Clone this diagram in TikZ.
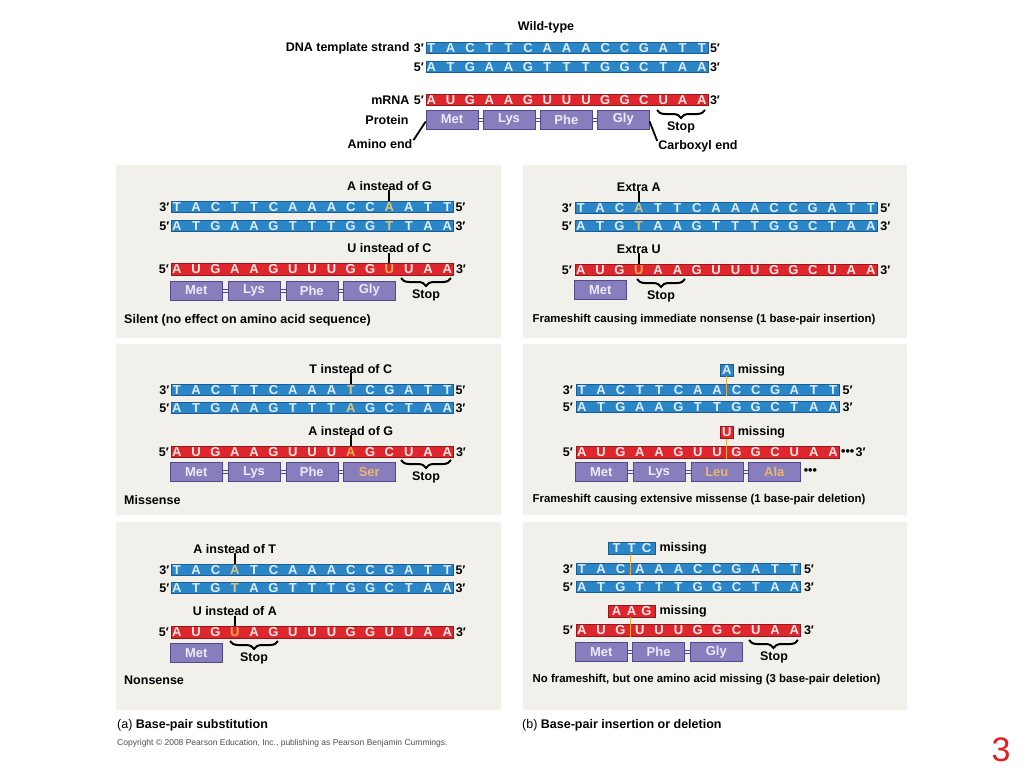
\documentclass[tikz,border=0pt]{standalone}
\usepackage{fontspec}
\setmainfont{Liberation Sans}
\usetikzlibrary{decorations.pathreplacing}
\definecolor{dnafill}{RGB}{42,134,198}
\definecolor{dnaedge}{RGB}{28,92,148}
\definecolor{rnafill}{RGB}{222,38,44}
\definecolor{rnaedge}{RGB}{150,22,28}
\definecolor{protfill}{RGB}{136,126,190}
\definecolor{protedge}{RGB}{82,72,138}
\definecolor{prottext}{RGB}{236,234,250}
\definecolor{dnatext}{RGB}{222,238,252}
\definecolor{rnatext}{RGB}{255,232,232}
\definecolor{hldna}{RGB}{224,198,122}
\definecolor{hlrna}{RGB}{250,172,72}
\definecolor{hlprot}{RGB}{234,182,112}
\definecolor{panelbg}{RGB}{242,240,234}
\definecolor{misscol}{RGB}{242,172,60}
\definecolor{slidered}{RGB}{226,30,30}
\definecolor{copygray}{RGB}{80,80,80}
\newcommand\hd[1]{\textcolor{hldna}{#1}}
\newcommand\hr[1]{\textcolor{hlrna}{#1}}
\newcommand\hp[1]{\textcolor{hlprot}{#1}}
\tikzset{
  dnabar/.style={draw=dnaedge, fill=dnafill, line width=0.6pt, minimum height=11.5pt, inner sep=0pt},
  rnabar/.style={draw=rnaedge, fill=rnafill, line width=0.6pt, minimum height=11.5pt, inner sep=0pt},
  dnabartext/.style={text=dnatext},
  rnabartext/.style={text=rnatext},
  base/.style={font=\fontsize{13}{14}\selectfont\bfseries, inner sep=0pt},
  protbox/.style={draw=protedge, fill=protfill, line width=0.6pt, minimum width=52pt, minimum height=19pt, inner sep=0pt, font=\fontsize{13}{14}\selectfont\bfseries, text=prottext},
  aalinkstyle/.style={draw=protedge, line width=0.6pt},
  lbl/.style={font=\fontsize{12.5}{14}\selectfont\bfseries, inner sep=0pt},
  caplbl/.style={font=\fontsize{11.4}{13}\selectfont\bfseries, inner sep=0pt},
  endlbl/.style={font=\fontsize{12.5}{14}\selectfont\bfseries, inner sep=0pt},
  tickline/.style={line width=2pt, draw=black},
  pointer/.style={line width=1.8pt, draw=black},
  stopbrace/.style={decorate, decoration={brace, mirror, amplitude=8pt}, line width=2pt, draw=black},
  missl/.style={draw=misscol, line width=0.9pt},
  panel/.style={fill=panelbg}
}
% strand: name, x0, yc, count, bar style, letters
\newcommand\strand[6]{%
  \pgfmathsetmacro\strandW{11.6+19.33*(#4-1)}%
  \node[#5, minimum width=\strandW pt, anchor=west] (#1) at (#2,#3) {};
  \foreach \l [count=\i] in {#6} {\node[base, #5text] (#1-\i) at ({#2+5.8+19.33*(\i-1)},#3) {\l};}
}
\newcommand\strandends[4]{%
  \node[endlbl, anchor=east] (#1-L) at ([xshift=-#4]#1.west) {#2};
  \node[endlbl, anchor=west] (#1-R) at ([xshift=#4]#1.east) {#3};
}
\newcommand\aabox[4]{\node[protbox, anchor=west] (#1) at (#2,#3) {#4};}
\newcommand\aalink[2]{%
  \draw[aalinkstyle] ([yshift=1.6pt]#1.east) -- ([yshift=1.6pt]#2.west);
  \draw[aalinkstyle] ([yshift=-1.6pt]#1.east) -- ([yshift=-1.6pt]#2.west);
}
\begin{document}
\begin{tikzpicture}[x=1pt,y=-1pt]
\useasboundingbox (0,0) rectangle (1024,768);
\fill[white] (0,0) rectangle (1024,768);
% panels
\path[panel] (116,165) rectangle (501,338);
\path[panel] (116,344) rectangle (501,515);
\path[panel] (116,522) rectangle (501,710);
\path[panel] (523,165) rectangle (907,338);
\path[panel] (523,344) rectangle (907,515);
\path[panel] (523,522) rectangle (907,710);

% ---------------- Wild type ----------------
\node[lbl] (wt) at (546,27) {Wild-type};
\strand{w-t}{425.5}{48}{15}{dnabar}{T,A,C,T,T,C,A,A,A,C,C,G,A,T,T}
\strand{w-b}{425.5}{67}{15}{dnabar}{A,T,G,A,A,G,T,T,T,G,G,C,T,A,A}
\strand{w-m}{425.5}{100}{15}{rnabar}{A,U,G,A,A,G,U,U,U,G,G,C,U,A,A}
\strandends{w-t}{3′}{5′}{1.5pt}
\strandends{w-b}{5′}{3′}{1.5pt}
\strandends{w-m}{5′}{3′}{1.5pt}
\node[lbl, anchor=east] (w-dna) at ([xshift=-4pt]w-t-L.west) {DNA template strand};
\node[lbl, anchor=east] (w-mrna) at ([xshift=-4pt]w-m-L.west) {mRNA};
\node[lbl] (w-prot) at (387,120) {Protein};
\aabox{w-p1}{425.7}{119.5}{Met}
\aabox{w-p2}{482.7}{119.5}{Lys}
\aabox{w-p3}{540}{119.5}{Phe}
\aabox{w-p4}{597}{119.5}{Gly}
\aalink{w-p1}{w-p2}\aalink{w-p2}{w-p3}\aalink{w-p3}{w-p4}
\coordinate (w-brL) at (657,110); \coordinate (w-brR) at (705,110);
\draw[stopbrace] (w-brL) -- (w-brR);
\node[lbl] (w-stop) at (681,127) {Stop};
\node[lbl] (w-amino) at (380,144) {Amino end};
\node[lbl] (w-carb) at (698,146) {Carboxyl end};
\draw[pointer] ([yshift=-2pt]w-p1.west) -- ([xshift=1pt,yshift=-1pt]w-amino.north east);
\draw[pointer] ([yshift=-2pt]w-p4.east) -- ([xshift=-1pt,yshift=-1pt]w-carb.north west);

% ---------------- (a) Silent ----------------
\strand{a1-t}{171}{207}{15}{dnabar}{T,A,C,T,T,C,A,A,A,C,C,\hd{A},A,T,T}
\strand{a1-b}{171}{226}{15}{dnabar}{A,T,G,A,A,G,T,T,T,G,G,\hd{T},T,A,A}
\strand{a1-m}{171}{269.5}{15}{rnabar}{A,U,G,A,A,G,U,U,U,G,G,\hr{U},U,A,A}
\strandends{a1-t}{3′}{5′}{1.5pt}
\strandends{a1-b}{5′}{3′}{1.5pt}
\strandends{a1-m}{5′}{3′}{2pt}
\node[lbl, anchor=south] (a1-l1) at ([yshift=10.5pt]a1-t-12.center |- a1-t.north) {A instead of G};
\draw[tickline] (a1-l1.south) -- (a1-l1.south |- a1-t.north);
\node[lbl, anchor=south] (a1-l2) at ([yshift=10.5pt]a1-m-12.center |- a1-m.north) {U instead of C};
\draw[tickline] (a1-l2.south) -- (a1-l2.south |- a1-m.north);
\aabox{a1-p1}{170}{290.5}{Met}
\aabox{a1-p2}{227.7}{290.5}{Lys}
\aabox{a1-p3}{285.5}{290.5}{Phe}
\aabox{a1-p4}{343}{290.5}{Gly}
\aalink{a1-p1}{a1-p2}\aalink{a1-p2}{a1-p3}\aalink{a1-p3}{a1-p4}
\coordinate (a1-brL) at (401,278); \coordinate (a1-brR) at (451,278);
\draw[stopbrace] (a1-brL) -- (a1-brR);
\node[lbl] (a1-stop) at (426,295) {Stop};
\node[lbl, anchor=west] (a1-cap) at (124,320) {Silent (no effect on amino acid sequence)};

% ---------------- (a) Missense ----------------
\strand{a2-t}{171}{390}{15}{dnabar}{T,A,C,T,T,C,A,A,A,\hd{T},C,G,A,T,T}
\strand{a2-b}{171}{408}{15}{dnabar}{A,T,G,A,A,G,T,T,T,\hd{A},G,C,T,A,A}
\strand{a2-m}{171}{452}{15}{rnabar}{A,U,G,A,A,G,U,U,U,\hr{A},G,C,U,A,A}
\strandends{a2-t}{3′}{5′}{1.5pt}
\strandends{a2-b}{5′}{3′}{1.5pt}
\strandends{a2-m}{5′}{3′}{2pt}
\node[lbl, anchor=south] (a2-l1) at ([yshift=10.5pt]a2-t-10.center |- a2-t.north) {T instead of C};
\draw[tickline] (a2-l1.south) -- (a2-l1.south |- a2-t.north);
\node[lbl, anchor=south] (a2-l2) at ([yshift=10.5pt]a2-m-10.center |- a2-m.north) {A instead of G};
\draw[tickline] (a2-l2.south) -- (a2-l2.south |- a2-m.north);
\aabox{a2-p1}{170}{472}{Met}
\aabox{a2-p2}{227.7}{472}{Lys}
\aabox{a2-p3}{285.5}{472}{Phe}
\aabox{a2-p4}{343}{472}{\hp{Ser}}
\aalink{a2-p1}{a2-p2}\aalink{a2-p2}{a2-p3}\aalink{a2-p3}{a2-p4}
\coordinate (a2-brL) at (401,460); \coordinate (a2-brR) at (451,460);
\draw[stopbrace] (a2-brL) -- (a2-brR);
\node[lbl] (a2-stop) at (426,477) {Stop};
\node[lbl, anchor=west] (a2-cap) at (124,500) {Missense};

% ---------------- (a) Nonsense ----------------
\strand{a3-t}{171}{570}{15}{dnabar}{T,A,C,\hd{A},T,C,A,A,A,C,C,G,A,T,T}
\strand{a3-b}{171}{588}{15}{dnabar}{A,T,G,\hd{T},A,G,T,T,T,G,G,C,T,A,A}
\strand{a3-m}{171}{632.5}{15}{rnabar}{A,U,G,\hr{U},A,G,U,U,U,G,G,U,U,A,A}
\strandends{a3-t}{3′}{5′}{1.5pt}
\strandends{a3-b}{5′}{3′}{1.5pt}
\strandends{a3-m}{5′}{3′}{2pt}
\node[lbl, anchor=south] (a3-l1) at ([yshift=10.5pt]a3-t-4.center |- a3-t.north) {A instead of T};
\draw[tickline] (a3-l1.south) -- (a3-l1.south |- a3-t.north);
\node[lbl, anchor=south] (a3-l2) at ([yshift=10.5pt]a3-m-4.center |- a3-m.north) {U instead of A};
\draw[tickline] (a3-l2.south) -- (a3-l2.south |- a3-m.north);
\aabox{a3-p1}{170}{653}{Met}
\coordinate (a3-brL) at (230,641); \coordinate (a3-brR) at (278,641);
\draw[stopbrace] (a3-brL) -- (a3-brR);
\node[lbl] (a3-stop) at (254,658) {Stop};
\node[lbl, anchor=west] (a3-cap) at (124,680) {Nonsense};

% ---------------- (b) Extra A ----------------
\strand{b1-t}{575}{208}{16}{dnabar}{T,A,C,\hd{A},T,T,C,A,A,A,C,C,G,A,T,T}
\strand{b1-b}{575}{226}{16}{dnabar}{A,T,G,\hd{T},A,A,G,T,T,T,G,G,C,T,A,A}
\strand{b1-m}{575}{270}{16}{rnabar}{A,U,G,\hr{U},A,A,G,U,U,U,G,G,C,U,A,A}
\strandends{b1-t}{3′}{5′}{3pt}
\strandends{b1-b}{5′}{3′}{3pt}
\strandends{b1-m}{5′}{3′}{3pt}
\node[lbl, anchor=south] (b1-l1) at ([yshift=10.5pt]b1-t-4.center |- b1-t.north) {Extra A};
\draw[tickline] (b1-l1.south) -- (b1-l1.south |- b1-t.north);
\node[lbl, anchor=south] (b1-l2) at ([yshift=10.5pt]b1-m-4.center |- b1-m.north) {Extra U};
\draw[tickline] (b1-l2.south) -- (b1-l2.south |- b1-m.north);
\aabox{b1-p1}{574}{290}{Met}
\coordinate (b1-brL) at (637,279); \coordinate (b1-brR) at (685,279);
\draw[stopbrace] (b1-brL) -- (b1-brR);
\node[lbl] (b1-stop) at (661,296) {Stop};
\node[caplbl, anchor=west] (b1-cap) at (532.5,320) {Frameshift causing immediate nonsense (1 base-pair insertion)};

% ---------------- (b) 1 bp deletion ----------------
\strand{b2-t}{576}{390}{14}{dnabar}{T,A,C,T,T,C,A,A,C,C,G,A,T,T}
\strand{b2-b}{576}{407}{14}{dnabar}{A,T,G,A,A,G,T,T,G,G,C,T,A,A}
\strand{b2-m}{576}{452.5}{14}{rnabar}{A,U,G,A,A,G,U,U,G,G,C,U,A,A}
\strandends{b2-t}{3′}{5′}{3pt}
\strandends{b2-b}{5′}{3′}{3pt}
\node[endlbl, anchor=east] (b2-m-L) at ([xshift=-3pt]b2-m.west) {5′};
\node[lbl, anchor=west] (b2-mdots) at ([xshift=1.5pt]b2-m.east) {•••};
\node[endlbl, anchor=west] (b2-m-R) at ([xshift=1pt]b2-mdots.east) {3′};
\node[dnabar, base, dnabartext, minimum width=13pt, minimum height=12pt] (b2-mA) at (726.8,370) {A};
\node[lbl, anchor=west] (b2-mAt) at ([xshift=4pt]b2-mA.east) {missing};
\draw[missl] (b2-mA.south) -- (b2-mA.south |- b2-t.south);
\node[rnabar, base, rnabartext, minimum width=13pt, minimum height=12pt] (b2-mU) at (726.8,432.5) {U};
\node[lbl, anchor=west] (b2-mUt) at ([xshift=4pt]b2-mU.east) {missing};
\draw[missl] (b2-mU.south) -- (b2-mU.south |- b2-m.south);
\aabox{b2-p1}{575}{472}{Met}
\aabox{b2-p2}{632.7}{472}{Lys}
\aabox{b2-p3}{690.5}{472}{\hp{Leu}}
\aabox{b2-p4}{748}{472}{\hp{Ala}}
\aalink{b2-p1}{b2-p2}\aalink{b2-p2}{b2-p3}\aalink{b2-p3}{b2-p4}
\node[lbl, anchor=west] (b2-pdots) at ([xshift=3pt]b2-p4.east) {•••};
\node[caplbl, anchor=west] (b2-cap) at (532.5,500) {Frameshift causing extensive missense (1 base-pair deletion)};

% ---------------- (b) 3 bp deletion ----------------
\strand{b3-t}{576}{569}{12}{dnabar}{T,A,C,A,A,A,C,C,G,A,T,T}
\strand{b3-b}{576}{587}{12}{dnabar}{A,T,G,T,T,T,G,G,C,T,A,A}
\strand{b3-m}{576}{630.5}{12}{rnabar}{A,U,G,U,U,U,G,G,C,U,A,A}
\strandends{b3-t}{3′}{5′}{3pt}
\strandends{b3-b}{5′}{3′}{3pt}
\strandends{b3-m}{5′}{3′}{3pt}
\node[dnabar, minimum width=47pt, minimum height=12pt] (b3-mT) at (631.5,548) {};
\node[base, dnabartext] (b3-mT-1) at (616.5,548) {T};
\node[base, dnabartext] (b3-mT-2) at (631.5,548) {T};
\node[base, dnabartext] (b3-mT-3) at (646.5,548) {C};
\node[lbl, anchor=west] (b3-mTt) at ([xshift=4pt]b3-mT.east) {missing};
\draw[missl] ([xshift=-1.5pt]b3-mT.south) -- ([xshift=-1.5pt]b3-mT.south |- b3-t.south);
\node[rnabar, minimum width=47pt, minimum height=12pt] (b3-mA) at (631.5,611) {};
\node[base, rnabartext] (b3-mA-1) at (616.5,611) {A};
\node[base, rnabartext] (b3-mA-2) at (631.5,611) {A};
\node[base, rnabartext] (b3-mA-3) at (646.5,611) {G};
\node[lbl, anchor=west] (b3-mAt) at ([xshift=4pt]b3-mA.east) {missing};
\draw[missl] ([xshift=-1.5pt]b3-mA.south) -- ([xshift=-1.5pt]b3-mA.south |- b3-m.south);
\aabox{b3-p1}{575}{652}{Met}
\aabox{b3-p2}{632.3}{652}{Phe}
\aabox{b3-p3}{690}{652}{Gly}
\aalink{b3-p1}{b3-p2}\aalink{b3-p2}{b3-p3}
\coordinate (b3-brL) at (749,640); \coordinate (b3-brR) at (798,640);
\draw[stopbrace] (b3-brL) -- (b3-brR);
\node[lbl] (b3-stop) at (774,657) {Stop};
\node[caplbl, anchor=west] (b3-cap) at (532.5,680) {No frameshift, but one amino acid missing (3 base-pair deletion)};

% ---------------- footer ----------------
\node[lbl, anchor=west] (fa) at (117,725) {{\mdseries (a)} Base-pair substitution};
\node[lbl, anchor=west] (fb) at (522,725) {{\mdseries (b)} Base-pair insertion or deletion};
\node[anchor=west, inner sep=0pt, font=\fontsize{8.5}{10}\selectfont, text=copygray] (copy) at (117,743) {Copyright © 2008 Pearson Education, Inc., publishing as Pearson Benjamin Cummings.};
\node[inner sep=0pt, font=\fontsize{34}{36}\selectfont, text=slidered] (pagenum) at (1001,750) {3};
\end{tikzpicture}
\end{document}
